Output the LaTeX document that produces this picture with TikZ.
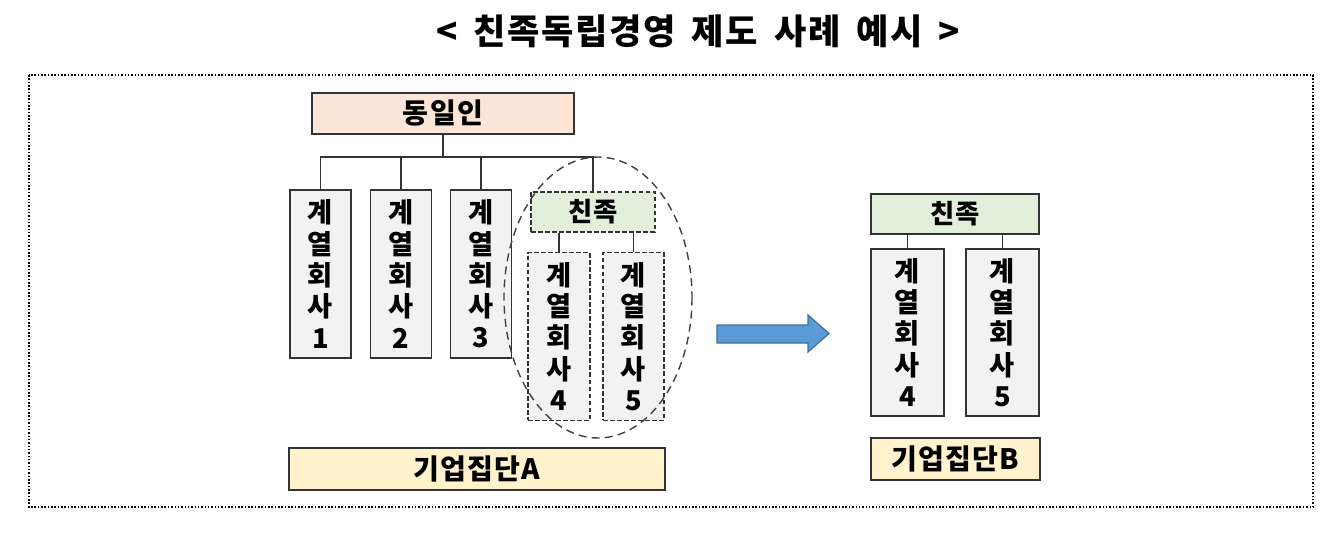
\documentclass[tikz,border=0pt]{standalone}
\usepackage{fontspec}
\setmainfont{Noto Sans CJK KR}
\usepackage{xcolor}
\usepackage{tikz}

\definecolor{ownerfill}{HTML}{FCE4D6}
\definecolor{kinfill}{HTML}{E2EFDA}
\definecolor{firmfill}{HTML}{F2F2F2}
\definecolor{groupfill}{HTML}{FFF2CC}
\definecolor{arrowfill}{HTML}{5B9BD5}
\definecolor{arrowline}{HTML}{41719C}

\newcommand{\wide}[1]{\addfontfeatures{LetterSpace=#1}}
\newcommand{\gap}{\hspace{0.45em}}

\begin{document}
\begin{tikzpicture}[
    x=0.02cm, y=-0.02cm,
    ownerbox/.style = {draw=black!80, line width=0.8pt, fill=ownerfill, minimum width=5.24cm, minimum height=0.82cm, font=\fontsize{16}{18}\selectfont\bfseries\wide{5}},
    kinbox/.style   = {draw=black!80, line width=0.8pt, fill=kinfill, minimum height=0.8cm, font=\fontsize{15}{17}\selectfont\bfseries\wide{5}},
    firmbox/.style  = {draw=black!80, line width=0.8pt, fill=firmfill, minimum height=3.36cm, inner sep=0pt, align=center, font=\fontsize{15.5}{17.8}\selectfont\bfseries},
    groupbox/.style = {draw=black!80, line width=0.8pt, fill=groupfill, minimum height=0.84cm, font=\fontsize{16}{18}\selectfont\bfseries\wide{4}},
    split/.style    = {dash pattern=on 2.6pt off 1.4pt},
    link/.style     = {draw=black!80, line width=0.6pt}
]
\useasboundingbox (0,0) rectangle (1342,547);

% ---- Title and frame ----
\node (title) at (698,31) {\fontsize{20}{23}\selectfont\bfseries\wide{5}<\gap 친족독립경영\gap 제도\gap 사례\gap 예시\gap >};
\draw[densely dotted, line width=0.9pt] (29,75) rectangle (1313,507);

% ---- Group A ----
\node[ownerbox] (owner) at (443,113.5) {동일인};
\coordinate (bus) at (443,157);

\node[firmbox, minimum width=1.22cm] (c1) at (320.5,274) {계\\열\\회\\사\\1};
\node[firmbox, minimum width=1.22cm] (c2) at (401,274)   {계\\열\\회\\사\\2};
\node[firmbox, minimum width=1.22cm] (c3) at (481,274)   {계\\열\\회\\사\\3};

\node[kinbox, split, minimum width=2.48cm]  (kin) at (593,212)   {친족};
\node[firmbox, split, minimum width=1.24cm] (c4)  at (559,336.5) {계\\열\\회\\사\\4};
\node[firmbox, split, minimum width=1.22cm] (c5)  at (633.5,336.5) {계\\열\\회\\사\\5};

\node[groupbox, minimum width=7.52cm] (grpA) at (477,469) {기업집단A};

% ---- Group A links ----
\draw[link] (owner) -- (bus);
\draw[link] (c1.north)  |- (bus);
\draw[link] (c2.north)  |- (bus);
\draw[link] (c3.north)  |- (bus);
\draw[link] (kin.north) |- (bus);
\draw[link] (c4) -- (c4 |- kin.south);
\draw[link] (c5) -- (c5 |- kin.south);

% ---- Split-off circle ----
\draw[black!75, line width=0.8pt, dash pattern=on 4.5pt off 3pt] (598,297.5) ellipse [x radius=94, y radius=140.5];

% ---- Arrow ----
\draw[fill=arrowfill, draw=arrowline, line width=0.7pt]
    (717,325) -- (808,325) -- (808,315) -- (829,333.5) -- (808,352) -- (808,343) -- (717,343) -- cycle;

% ---- Group B ----
\node[kinbox, minimum width=3.36cm]  (kinB) at (955,214)    {친족};
\node[firmbox, minimum width=1.46cm, minimum height=3.34cm] (c4B) at (907.5,332.5)  {계\\열\\회\\사\\4};
\node[firmbox, minimum width=1.46cm, minimum height=3.34cm] (c5B) at (1002.5,332.5) {계\\열\\회\\사\\5};
\node[groupbox, minimum width=3.38cm] (grpB) at (955.5,459) {기업집단B};

\draw[link] (c4B) -- (c4B |- kinB.south);
\draw[link] (c5B) -- (c5B |- kinB.south);

\end{tikzpicture}
\end{document}
